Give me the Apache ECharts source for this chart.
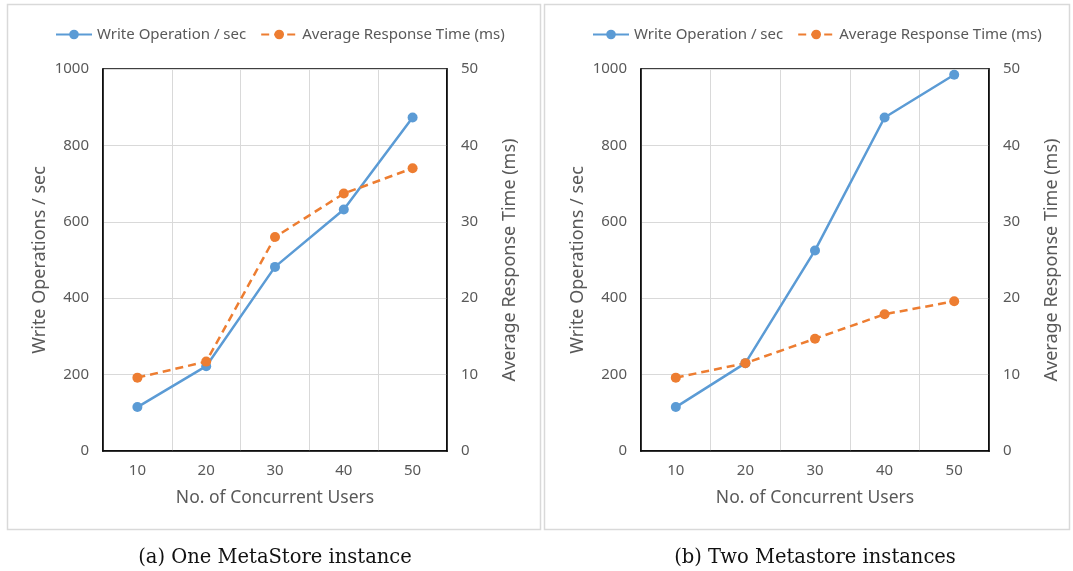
<!DOCTYPE html>
<html><head><meta charset="utf-8">
<script src="https://cdn.jsdelivr.net/npm/echarts@6/dist/echarts.min.js"></script>
<style>html,body{margin:0;padding:0;background:#fff}#c{width:1073px;height:571px}</style>
</head><body><div id="c"></div>
<script>
const users = ['10', '20', '30', '40', '50'];
const writeOpsOne = [115, 222, 482, 632, 873];
const respTimeOne = [9.6, 11.7, 28.0, 33.7, 37.0];
const writeOpsTwo = [115, 230, 525, 873, 985];
const respTimeTwo = [9.6, 11.5, 14.7, 17.9, 19.6];
const leftTicks = [0, 1000, 200];
const rightTicks = [0, 50, 10];
const seriesNames = ['Write Operation / sec', 'Average Response Time (ms)'];
const captions = ['(a) One MetaStore instance', '(b) Two Metastore instances'];

const FONT = 'Noto Sans';
const TXT = '#595959';
const BLUE = '#5B9BD5', ORANGE = '#ED7D31';

const chart = echarts.init(document.getElementById('c'), null, {renderer: 'canvas'});

const grids = [
  {left: 103, right: 626, top: 69, bottom: 120},
  {left: 641, right: 84, top: 69, bottom: 120}
];

function xAxis(i) {
  return {
    type: 'category', gridIndex: i, data: users, boundaryGap: true,
    name: 'No. of Concurrent Users', nameLocation: 'middle', nameGap: 38,
    nameTextStyle: {fontFamily: FONT, fontSize: 17.5, color: TXT},
    axisLine: {show: true, lineStyle: {color: '#000', width: 1.5}},
    axisTick: {show: false},
    axisLabel: {fontFamily: FONT, fontSize: 15, color: TXT, margin: 12},
    splitLine: {show: true, lineStyle: {color: '#D9D9D9', width: 1}}
  };
}
function yLeft(i) {
  return {
    type: 'value', gridIndex: i, min: leftTicks[0], max: leftTicks[1], interval: leftTicks[2],
    position: 'left',
    name: 'Write Operations / sec', nameLocation: 'middle', nameGap: 54, nameRotate: 90,
    nameTextStyle: {fontFamily: FONT, fontSize: 18, color: TXT},
    axisLine: {show: true, lineStyle: {color: '#000', width: 1.5}},
    axisTick: {show: false},
    axisLabel: {fontFamily: FONT, fontSize: 15, color: TXT, margin: 14, formatter: v => String(v)},
    splitLine: {show: true, lineStyle: {color: '#D9D9D9', width: 1}}
  };
}
function yRight(i) {
  return {
    type: 'value', gridIndex: i, min: rightTicks[0], max: rightTicks[1], interval: rightTicks[2],
    position: 'right',
    name: 'Average Response Time (ms)', nameLocation: 'middle', nameGap: 54, nameRotate: 90,
    nameTextStyle: {fontFamily: FONT, fontSize: 18, color: TXT},
    axisLine: {show: true, lineStyle: {color: '#000', width: 1.5}},
    axisTick: {show: false},
    axisLabel: {fontFamily: FONT, fontSize: 15, color: TXT, margin: 14, formatter: v => String(v)},
    splitLine: {show: false}
  };
}
function lineSeries(name, data, xi, yi, color, dashed) {
  return {
    type: 'line', name: name, data: data, xAxisIndex: xi, yAxisIndex: yi,
    symbol: 'circle', symbolSize: 10,
    itemStyle: {color: color},
    lineStyle: {color: color, width: 2.5, type: dashed ? [8, 5] : 'solid'},
    emphasis: {disabled: true}, animation: false
  };
}
function legend(left) {
  return {
    data: seriesNames, left: left, top: 22, itemWidth: 36, itemHeight: 12, itemGap: 14,
    textStyle: {fontFamily: FONT, fontSize: 15, color: TXT}, selectedMode: false
  };
}

chart.setOption({
  animation: false,
  backgroundColor: '#fff',
  grid: grids.map(g => Object.assign({show: true, borderColor: '#000', borderWidth: 1.5, backgroundColor: 'transparent'}, g)),
  legend: [legend(50), legend(587)],
  xAxis: [xAxis(0), xAxis(1)],
  yAxis: [yLeft(0), yRight(0), yLeft(1), yRight(1)],
  series: [
    lineSeries(seriesNames[0], writeOpsOne, 0, 0, BLUE, false),
    lineSeries(seriesNames[1], respTimeOne, 0, 1, ORANGE, true),
    lineSeries(seriesNames[0], writeOpsTwo, 1, 2, BLUE, false),
    lineSeries(seriesNames[1], respTimeTwo, 1, 3, ORANGE, true)
  ],
  graphic: [
    {type: 'rect', shape: {x: 7.5, y: 4.5, width: 533, height: 525}, style: {fill: 'none', stroke: '#D9D9D9', lineWidth: 1.5}, z: -1},
    {type: 'rect', shape: {x: 544.5, y: 4.5, width: 525, height: 525}, style: {fill: 'none', stroke: '#D9D9D9', lineWidth: 1.5}, z: -1},
    {type: 'text', x: 275, y: 558, style: {text: captions[0], font: '19.5px "DejaVu Serif"', fill: '#111', textAlign: 'center', textVerticalAlign: 'middle'}},
    {type: 'text', x: 815, y: 558, style: {text: captions[1], font: '19.5px "DejaVu Serif"', fill: '#111', textAlign: 'center', textVerticalAlign: 'middle'}}
  ]
});
</script></body></html>
